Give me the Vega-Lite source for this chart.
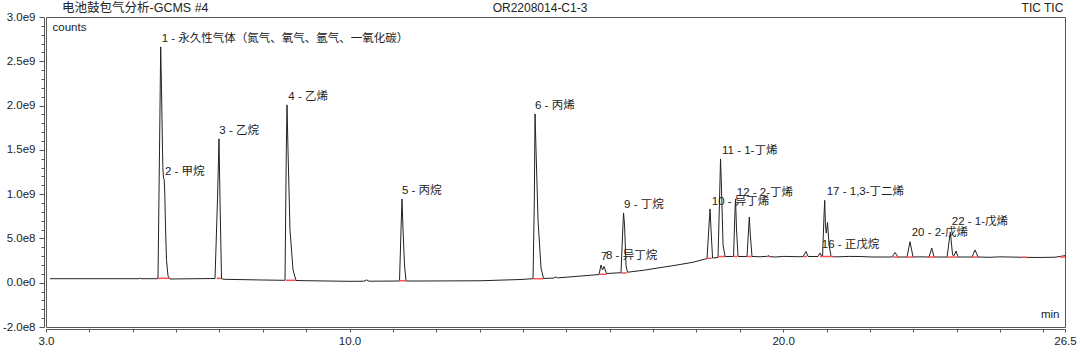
{
  "$schema": "https://vega.github.io/schema/vega-lite/v6.json",
  "width": 1019,
  "height": 310,
  "autosize": {"type": "none"},
  "padding": {"left": 46, "top": 17, "right": 15, "bottom": 25},
  "background": "white",
  "config": {
    "view": {"stroke": "#555555", "strokeWidth": 1},
    "font": "Liberation Sans, Noto Sans CJK SC"
  },
  "datasets": {
    "trace": [
      {"t": 3.092, "v": 45200000}, {"t": 4.245, "v": 45200000}, {"t": 5.15, "v": 45200000}, {"t": 5.168, "v": 55000000}, {"t": 5.19, "v": 45200000},
      {"t": 5.56, "v": 45200000}, {"t": 5.583, "v": 53100000}, {"t": 5.618, "v": 1499500000}, {"t": 5.645, "v": 2663000000}, {"t": 5.664, "v": 2178000000},
      {"t": 5.687, "v": 1500000000}, {"t": 5.695, "v": 1300000000}, {"t": 5.71, "v": 1180000000}, {"t": 5.725, "v": 1170000000}, {"t": 5.74, "v": 1000000000},
      {"t": 5.755, "v": 650000000}, {"t": 5.78, "v": 250000000}, {"t": 5.814, "v": 76000000}, {"t": 5.86, "v": 42000000},
      {"t": 6.898, "v": 47500000}, {"t": 6.955, "v": 935000000}, {"t": 6.99, "v": 1624000000}, {"t": 7.013, "v": 935000000}, {"t": 7.048, "v": 44000000},
      {"t": 7.128, "v": 38400000}, {"t": 8.005, "v": 30500000}, {"t": 8.512, "v": 27000000},
      {"t": 8.542, "v": 1500000000}, {"t": 8.558, "v": 2008000000}, {"t": 8.581, "v": 1500000000}, {"t": 8.627, "v": 596000000}, {"t": 8.697, "v": 144000000}, {"t": 8.766, "v": 25000000},
      {"t": 9.012, "v": 22600000}, {"t": 10.011, "v": 15800000}, {"t": 10.334, "v": 17000000}, {"t": 10.392, "v": 32000000}, {"t": 10.449, "v": 17000000}, {"t": 11.153, "v": 19200000},
      {"t": 11.187, "v": 596000000}, {"t": 11.21, "v": 946000000}, {"t": 11.234, "v": 596000000}, {"t": 11.268, "v": 200000000}, {"t": 11.303, "v": 19200000},
      {"t": 11.626, "v": 19200000}, {"t": 13.009, "v": 22000000}, {"t": 13.932, "v": 36000000},
      {"t": 14.232, "v": 45200000}, {"t": 14.262, "v": 935000000}, {"t": 14.278, "v": 1906000000}, {"t": 14.301, "v": 1500000000}, {"t": 14.347, "v": 709000000}, {"t": 14.416, "v": 166000000}, {"t": 14.474, "v": 47500000},
      {"t": 14.555, "v": 49700000}, {"t": 14.7, "v": 52000000}, {"t": 14.762, "v": 65000000}, {"t": 14.8, "v": 55000000}, {"t": 14.854, "v": 56500000}, {"t": 15.25, "v": 72000000}, {"t": 15.616, "v": 87000000},
      {"t": 15.754, "v": 92700000}, {"t": 15.8, "v": 200000000}, {"t": 15.835, "v": 144000000}, {"t": 15.869, "v": 183000000}, {"t": 15.927, "v": 104000000},
      {"t": 16.261, "v": 113000000}, {"t": 16.296, "v": 539000000}, {"t": 16.319, "v": 788000000}, {"t": 16.342, "v": 652000000}, {"t": 16.377, "v": 190000000}, {"t": 16.411, "v": 118000000},
      {"t": 16.8, "v": 142000000}, {"t": 17.161, "v": 170000000}, {"t": 17.55, "v": 200000000}, {"t": 17.922, "v": 231000000}, {"t": 18.245, "v": 273000000},
      {"t": 18.291, "v": 652000000}, {"t": 18.314, "v": 833000000}, {"t": 18.337, "v": 596000000}, {"t": 18.372, "v": 279000000},
      {"t": 18.498, "v": 285000000}, {"t": 18.533, "v": 935000000}, {"t": 18.556, "v": 1398000000}, {"t": 18.579, "v": 1048000000}, {"t": 18.614, "v": 426000000}, {"t": 18.66, "v": 296000000},
      {"t": 18.856, "v": 296000000}, {"t": 18.89, "v": 820000000}, {"t": 18.902, "v": 946000000}, {"t": 18.925, "v": 596000000}, {"t": 18.96, "v": 296000000},
      {"t": 19.167, "v": 296000000}, {"t": 19.202, "v": 596000000}, {"t": 19.22, "v": 742000000}, {"t": 19.243, "v": 539000000}, {"t": 19.282, "v": 296000000},
      {"t": 19.467, "v": 293000000}, {"t": 19.64, "v": 298000000}, {"t": 19.66, "v": 308000000}, {"t": 19.69, "v": 295000000}, {"t": 19.813, "v": 290000000}, {"t": 20.0, "v": 297000000},
      {"t": 20.159, "v": 296000000}, {"t": 20.39, "v": 293000000}, {"t": 20.459, "v": 296000000}, {"t": 20.528, "v": 353000000}, {"t": 20.574, "v": 296000000},
      {"t": 20.805, "v": 296000000}, {"t": 20.851, "v": 336000000}, {"t": 20.886, "v": 302000000}, {"t": 20.909, "v": 302000000},
      {"t": 20.943, "v": 765000000}, {"t": 20.959, "v": 930000000}, {"t": 20.975, "v": 650000000}, {"t": 20.995, "v": 560000000}, {"t": 21.024, "v": 680000000}, {"t": 21.059, "v": 426000000}, {"t": 21.105, "v": 296000000},
      {"t": 21.2, "v": 292000000}, {"t": 21.312, "v": 293000000}, {"t": 21.5, "v": 297000000}, {"t": 21.773, "v": 296000000}, {"t": 22.0, "v": 291000000}, {"t": 22.235, "v": 290000000},
      {"t": 22.511, "v": 290000000}, {"t": 22.58, "v": 341000000}, {"t": 22.65, "v": 290000000}, {"t": 22.857, "v": 290000000}, {"t": 22.926, "v": 463000000}, {"t": 22.996, "v": 290000000},
      {"t": 23.157, "v": 292000000}, {"t": 23.365, "v": 290000000}, {"t": 23.427, "v": 392000000}, {"t": 23.48, "v": 290000000}, {"t": 23.78, "v": 290000000},
      {"t": 23.856, "v": 573000000}, {"t": 23.907, "v": 313000000}, {"t": 23.941, "v": 305000000}, {"t": 23.987, "v": 358000000}, {"t": 24.033, "v": 290000000},
      {"t": 24.356, "v": 290000000}, {"t": 24.425, "v": 370000000}, {"t": 24.495, "v": 290000000}, {"t": 24.771, "v": 287000000}, {"t": 25.0, "v": 292000000},
      {"t": 25.233, "v": 290000000}, {"t": 25.579, "v": 286000000}, {"t": 25.925, "v": 285000000}, {"t": 26.271, "v": 288000000}, {"t": 26.432, "v": 300000000}, {"t": 26.5, "v": 307000000}
    ],
    "peaks": [
      {"label": "1 - 永久性气体（氮气、氧气、氩气、一氧化碳）", "t": 5.668, "v": 2750000000},
      {"label": "2 - 甲烷", "t": 5.744, "v": 1251000000},
      {"label": "3 - 乙烷", "t": 6.997, "v": 1718000000},
      {"label": "4 - 乙烯", "t": 8.588, "v": 2102000000},
      {"label": "5 - 丙烷", "t": 11.21, "v": 1036000000},
      {"label": "6 - 丙烯", "t": 14.278, "v": 1997000000},
      {"label": "7", "t": 15.8, "v": 290000000},
      {"label": "8 - 异丁烷", "t": 15.915, "v": 302000000},
      {"label": "9 - 丁烷", "t": 16.331, "v": 878000000},
      {"label": "10 - 异丁烯", "t": 18.353, "v": 915000000},
      {"label": "11 - 1-丁烯", "t": 18.591, "v": 1488000000},
      {"label": "12 - 2-丁烯", "t": 18.93, "v": 1017000000},
      {"label": "16 - 正戊烷", "t": 20.89, "v": 426000000},
      {"label": "17 - 1,3-丁二烯", "t": 21.005, "v": 1022000000},
      {"label": "20 - 2-戊烯", "t": 22.965, "v": 558000000},
      {"label": "22 - 1-戊烯", "t": 23.888, "v": 689000000}
    ],
    "baselines": [
      {"t1": 5.59, "t2": 5.844, "v": 49700000},
      {"t1": 6.937, "t2": 7.029, "v": 49700000},
      {"t1": 8.535, "t2": 8.766, "v": 27000000},
      {"t1": 11.148, "t2": 11.303, "v": 22600000},
      {"t1": 14.238, "t2": 14.469, "v": 45200000},
      {"t1": 15.761, "t2": 15.931, "v": 95000000},
      {"t1": 16.261, "t2": 16.393, "v": 110000000},
      {"t1": 18.238, "t2": 18.353, "v": 276000000},
      {"t1": 18.498, "t2": 18.66, "v": 296000000},
      {"t1": 18.844, "t2": 18.937, "v": 296000000},
      {"t1": 19.16, "t2": 19.275, "v": 296000000},
      {"t1": 19.622, "t2": 19.698, "v": 296000000},
      {"t1": 20.459, "t2": 20.544, "v": 296000000},
      {"t1": 20.851, "t2": 21.151, "v": 296000000},
      {"t1": 22.534, "t2": 22.673, "v": 290000000},
      {"t1": 22.811, "t2": 22.996, "v": 290000000},
      {"t1": 23.342, "t2": 23.504, "v": 290000000},
      {"t1": 23.773, "t2": 24.033, "v": 290000000},
      {"t1": 24.349, "t2": 24.495, "v": 290000000},
      {"t1": 25.503, "t2": 25.618, "v": 287000000},
      {"t1": 26.386, "t2": 26.5, "v": 290000000}
    ]
  },
  "layer": [
    {
      "data": {"name": "trace"},
      "mark": {"type": "line", "color": "#222222", "strokeWidth": 1},
      "encoding": {
        "x": {
          "field": "t", "type": "quantitative",
          "scale": {"domain": [3, 26.5], "nice": false, "zero": false},
          "axis": {
            "values": [3, 4, 5, 6, 7, 8, 9, 10, 11, 12, 13, 14, 15, 16, 17, 18, 19, 20, 21, 22, 23, 24, 25, 26, 26.5],
            "tickCount": 40,
            "labelExpr": "datum.value == 3 || datum.value == 10 || datum.value == 20 || datum.value == 26.5 ? format(datum.value, '.1f') : ''",
            "title": "min", "titleX": 1013, "titleY": -15, "titleAlign": "right", "titleBaseline": "middle",
            "titleFontWeight": "normal", "titleFontSize": 11.5, "titleColor": "#222222",
            "grid": false, "offset": 2, "domainColor": "#555555", "tickColor": "#555555", "tickSize": 3,
            "labelFontSize": 11.5, "labelColor": "#222222", "labelPadding": 3,
            "labelOverlap": false, "labelFlush": false, "labelBound": false
          }
        },
        "y": {
          "field": "v", "type": "quantitative",
          "scale": {"domain": [-500000000, 3000000000], "nice": false, "zero": false},
          "axis": {
            "values": [-500000000, -400000000, -300000000, -200000000, -100000000, 0, 100000000, 200000000, 300000000, 400000000, 500000000, 600000000, 700000000, 800000000, 900000000, 1000000000, 1100000000, 1200000000, 1300000000, 1400000000, 1500000000, 1600000000, 1700000000, 1800000000, 1900000000, 2000000000, 2100000000, 2200000000, 2300000000, 2400000000, 2500000000, 2600000000, 2700000000, 2800000000, 2900000000, 3000000000],
            "tickCount": 40,
            "labelExpr": "datum.value == 3000000000 ? '3.0e9' : datum.value == 2500000000 ? '2.5e9' : datum.value == 2000000000 ? '2.0e9' : datum.value == 1500000000 ? '1.5e9' : datum.value == 1000000000 ? '1.0e9' : datum.value == 500000000 ? '5.0e8' : datum.value == 0 ? '0.0e0' : datum.value == -500000000 ? '-2.0e8' : ''",
            "title": "counts", "titleAngle": 0, "titleAlign": "left", "titleBaseline": "middle", "titleX": 8, "titleY": 10,
            "titleFontWeight": "normal", "titleFontSize": 11.5, "titleColor": "#222222",
            "grid": false, "offset": 2, "domainColor": "#555555", "tickColor": "#555555",
            "tickSize": {"condition": {"test": "datum.value % 500000000 == 0", "value": 5}, "value": 3},
            "labelFontSize": 11.5, "labelColor": "#222222", "labelPadding": 4,
            "labelOverlap": false, "labelFlush": false, "labelBound": false
          }
        }
      }
    },
    {
      "data": {"name": "baselines"},
      "mark": {"type": "rule", "color": "#ff5050", "strokeWidth": 1.5},
      "encoding": {
        "x": {"field": "t1", "type": "quantitative", "scale": {"domain": [3, 26.5], "nice": false, "zero": false}},
        "x2": {"field": "t2"},
        "y": {"field": "v", "type": "quantitative", "scale": {"domain": [-500000000, 3000000000], "nice": false, "zero": false}}
      }
    },
    {
      "data": {"name": "peaks"},
      "mark": {"type": "text", "align": "left", "baseline": "middle", "fontSize": 11.5, "color": "#222222", "font": "Liberation Sans, Noto Sans CJK SC"},
      "encoding": {
        "x": {"field": "t", "type": "quantitative", "scale": {"domain": [3, 26.5], "nice": false, "zero": false}},
        "y": {"field": "v", "type": "quantitative", "scale": {"domain": [-500000000, 3000000000], "nice": false, "zero": false}},
        "text": {"field": "label"}
      }
    },
    {
      "data": {"values": [{}]},
      "mark": {"type": "text", "align": "left", "baseline": "middle", "fontSize": 12.5, "color": "#222222", "font": "Liberation Sans, Noto Sans CJK SC"},
      "encoding": {
        "x": {"datum": 3.369, "type": "quantitative", "scale": {"domain": [3, 26.5], "nice": false, "zero": false}},
        "y": {"datum": 3096000000, "type": "quantitative", "scale": {"domain": [-500000000, 3000000000], "nice": false, "zero": false}},
        "text": {"value": "电池鼓包气分析-GCMS #4"}
      }
    },
    {
      "data": {"values": [{}]},
      "mark": {"type": "text", "align": "center", "baseline": "middle", "fontSize": 12, "color": "#222222", "font": "Liberation Sans"},
      "encoding": {
        "x": {"datum": 14.393, "type": "quantitative", "scale": {"domain": [3, 26.5], "nice": false, "zero": false}},
        "y": {"datum": 3104000000, "type": "quantitative", "scale": {"domain": [-500000000, 3000000000], "nice": false, "zero": false}},
        "text": {"value": "OR2208014-C1-3"}
      }
    },
    {
      "data": {"values": [{}]},
      "mark": {"type": "text", "align": "right", "baseline": "middle", "fontSize": 12, "color": "#222222", "font": "Liberation Sans"},
      "encoding": {
        "x": {"datum": 26.462, "type": "quantitative", "scale": {"domain": [3, 26.5], "nice": false, "zero": false}},
        "y": {"datum": 3104000000, "type": "quantitative", "scale": {"domain": [-500000000, 3000000000], "nice": false, "zero": false}},
        "text": {"value": "TIC TIC"}
      }
    }
  ]
}
